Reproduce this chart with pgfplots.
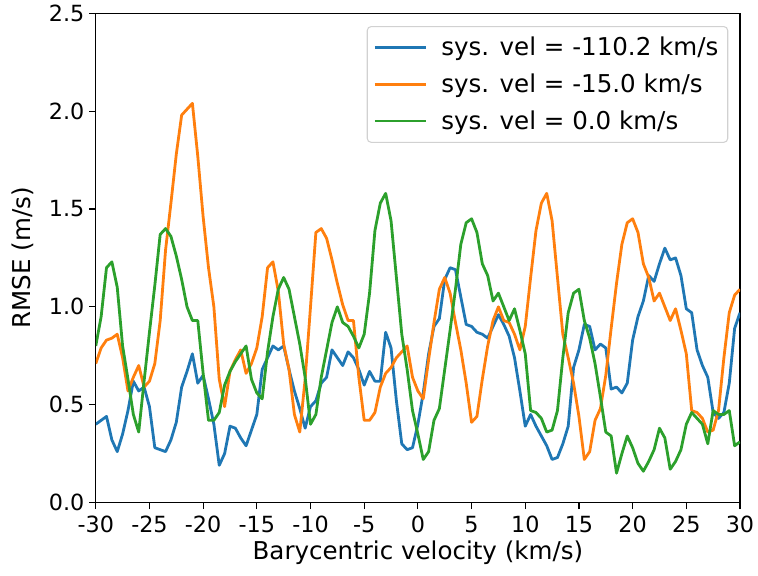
\documentclass[border=0pt]{standalone}
\usepackage{fontspec}
\setmainfont{DejaVu Sans}
\usepackage{pgfplots}
\pgfplotsset{compat=1.18}
\usetikzlibrary{calc}
\definecolor{tabblue}{HTML}{1F77B4}
\definecolor{taborange}{HTML}{FF7F0E}
\definecolor{tabgreen}{HTML}{2CA02C}
\begin{document}
\begin{tikzpicture}
\begin{axis}[
  scale only axis, width=483pt, height=366.75pt,
  xmin=-30, xmax=30, ymin=0, ymax=2.5,
  xtick={-30,-25,...,30}, ytick={0,0.5,1.0,1.5,2.0,2.5},
  /pgf/number format/assume math mode=true,
  yticklabel style={/pgf/number format/.cd,fixed,fixed zerofill,precision=1},
  xticklabel style={yshift=-1.5pt},
  xtick pos=left, ytick pos=left,
  tick align=outside, major tick length=5pt,
  tick style={black, line width=0.9pt},
  axis line style={line width=0.9pt},
  ticklabel style={font=\fontsize{16.7}{19}\selectfont},
  xlabel={Barycentric velocity (km/s)}, ylabel={RMSE (m/s)},
  label style={font=\fontsize{18.4}{21}\selectfont},
  xlabel style={at={(rel axis cs:0.5,-0.1036)}, anchor=center},
  ylabel style={at={(rel axis cs:-0.1139,0.5)}, anchor=center},
  legend cell align=left,
  legend style={at={(rel axis cs:1,1)}, anchor=north east, xshift=-8.8pt, yshift=-9.5pt,
    draw=black!18, rounded corners=3pt, font=\fontsize{18.4}{21}\selectfont, line width=0.8pt,
    row sep=8.2pt, inner xsep=5pt, inner ysep=6pt,
    /tikz/every odd column/.append style={column sep=9pt}},
  legend image code/.code={\draw[#1, line width=1.6pt] (0pt,0pt) -- (38pt,0pt);},
  every axis plot/.append style={line width=2.1pt, line join=round},
]
\addplot[tabblue] table {
-30 0.40
-29.5 0.42
-29 0.44
-28.5 0.32
-28 0.26
-27.5 0.35
-27 0.47
-26.5 0.62
-26 0.57
-25.5 0.59
-25 0.49
-24.5 0.28
-24 0.27
-23.5 0.26
-23 0.32
-22.5 0.41
-22 0.59
-21.5 0.67
-21 0.76
-20.5 0.61
-20 0.65
-19.5 0.53
-19 0.40
-18.5 0.19
-18 0.25
-17.5 0.39
-17 0.38
-16.5 0.33
-16 0.29
-15.5 0.37
-15 0.45
-14.5 0.68
-14 0.74
-13.5 0.80
-13 0.78
-12.5 0.80
-12 0.68
-11.5 0.57
-11 0.48
-10.5 0.38
-10 0.49
-9.5 0.52
-9 0.61
-8.5 0.64
-8 0.78
-7.5 0.74
-7 0.70
-6.5 0.77
-6 0.74
-5.5 0.68
-5 0.60
-4.5 0.67
-4 0.62
-3.5 0.62
-3 0.87
-2.5 0.79
-2 0.52
-1.5 0.30
-1 0.27
-0.5 0.28
0 0.40
0.5 0.56
1 0.76
1.5 0.90
2 0.94
2.5 1.14
3 1.20
3.5 1.19
4 1.05
4.5 0.91
5 0.90
5.5 0.87
6 0.86
6.5 0.84
7 0.90
7.5 0.96
8 0.91
8.5 0.85
9 0.74
9.5 0.57
10 0.39
10.5 0.45
11 0.39
11.5 0.34
12 0.29
12.5 0.22
13 0.23
13.5 0.30
14 0.39
14.5 0.69
15 0.78
15.5 0.91
16 0.90
16.5 0.78
17 0.81
17.5 0.79
18 0.58
18.5 0.59
19 0.56
19.5 0.61
20 0.83
20.5 0.95
21 1.03
21.5 1.16
22 1.13
22.5 1.22
23 1.30
23.5 1.24
24 1.25
24.5 1.16
25 0.99
25.5 0.97
26 0.78
26.5 0.70
27 0.64
27.5 0.46
28 0.43
28.5 0.46
29 0.61
29.5 0.89
30 0.97
};
\addlegendentry{sys. vel = -110.2 km/s}
\addplot[taborange] table {
-30 0.71
-29.5 0.79
-29 0.83
-28.5 0.84
-28 0.86
-27.5 0.74
-27 0.57
-26.5 0.64
-26 0.70
-25.5 0.59
-25 0.62
-24.5 0.71
-24 0.93
-23.5 1.29
-23 1.53
-22.5 1.78
-22 1.98
-21.5 2.01
-21 2.04
-20.5 1.77
-20 1.46
-19.5 1.20
-19 1.00
-18.5 0.63
-18 0.49
-17.5 0.67
-17 0.73
-16.5 0.78
-16 0.66
-15.5 0.71
-15 0.79
-14.5 0.95
-14 1.20
-13.5 1.23
-13 1.08
-12.5 0.81
-12 0.68
-11.5 0.45
-11 0.36
-10.5 0.63
-10 1.00
-9.5 1.38
-9 1.40
-8.5 1.35
-8 1.24
-7.5 1.12
-7 1.01
-6.5 0.93
-6 0.93
-5.5 0.64
-5 0.42
-4.5 0.42
-4 0.46
-3.5 0.59
-3 0.66
-2.5 0.69
-2 0.74
-1.5 0.77
-1 0.80
-0.5 0.64
0 0.57
0.5 0.53
1 0.73
1.5 0.92
2 1.09
2.5 1.15
3 1.07
3.5 0.92
4 0.78
4.5 0.61
5 0.41
5.5 0.44
6 0.63
6.5 0.80
7 0.93
7.5 1.00
8 0.93
8.5 0.92
9 0.86
9.5 0.78
10 0.90
10.5 1.15
11 1.39
11.5 1.53
12 1.58
12.5 1.44
13 1.15
13.5 0.86
14 0.74
14.5 0.61
15 0.44
15.5 0.22
16 0.26
16.5 0.42
17 0.48
17.5 0.65
18 0.89
18.5 1.12
19 1.32
19.5 1.43
20 1.45
20.5 1.38
21 1.22
21.5 1.15
22 1.03
22.5 1.07
23 1.00
23.5 0.93
24 0.99
24.5 0.88
25 0.76
25.5 0.47
26 0.46
26.5 0.43
27 0.36
27.5 0.37
28 0.47
28.5 0.74
29 0.97
29.5 1.06
30 1.09
};
\addlegendentry{sys. vel = -15.0 km/s}
\addplot[tabgreen] table {
-30 0.80
-29.5 0.95
-29 1.20
-28.5 1.23
-28 1.10
-27.5 0.80
-27 0.63
-26.5 0.45
-26 0.36
-25.5 0.62
-25 0.87
-24.5 1.11
-24 1.37
-23.5 1.40
-23 1.36
-22.5 1.26
-22 1.14
-21.5 1.00
-21 0.93
-20.5 0.93
-20 0.66
-19.5 0.42
-19 0.42
-18.5 0.46
-18 0.60
-17.5 0.67
-17 0.72
-16.5 0.76
-16 0.80
-15.5 0.63
-15 0.56
-14.5 0.53
-14 0.77
-13.5 0.95
-13 1.09
-12.5 1.15
-12 1.09
-11.5 0.95
-11 0.81
-10.5 0.64
-10 0.40
-9.5 0.45
-9 0.64
-8.5 0.78
-8 0.92
-7.5 1.00
-7 0.92
-6.5 0.90
-6 0.85
-5.5 0.79
-5 0.86
-4.5 1.07
-4 1.39
-3.5 1.53
-3 1.58
-2.5 1.44
-2 1.15
-1.5 0.86
-1 0.68
-0.5 0.47
0 0.35
0.5 0.22
1 0.26
1.5 0.42
2 0.48
2.5 0.68
3 0.88
3.5 1.09
4 1.32
4.5 1.43
5 1.45
5.5 1.38
6 1.22
6.5 1.16
7 1.03
7.5 1.07
8 1.00
8.5 0.93
9 0.99
9.5 0.88
10 0.76
10.5 0.47
11 0.46
11.5 0.43
12 0.36
12.5 0.37
13 0.47
13.5 0.74
14 0.97
14.5 1.07
15 1.09
15.5 0.93
16 0.84
16.5 0.71
17 0.54
17.5 0.36
18 0.34
18.5 0.15
19 0.25
19.5 0.34
20 0.28
20.5 0.20
21 0.16
21.5 0.21
22 0.27
22.5 0.38
23 0.33
23.5 0.17
24 0.21
24.5 0.27
25 0.40
25.5 0.46
26 0.43
26.5 0.40
27 0.30
27.5 0.47
28 0.45
28.5 0.45
29 0.47
29.5 0.29
30 0.31
};
\addlegendentry{sys. vel = 0.0 km/s}
\end{axis}
\pgfresetboundingbox
\path ($(current axis.south west)+(-71.8pt,-54.5pt)$) rectangle ($(current axis.north east)+(13.5pt,10pt)$);
\end{tikzpicture}
\end{document}
